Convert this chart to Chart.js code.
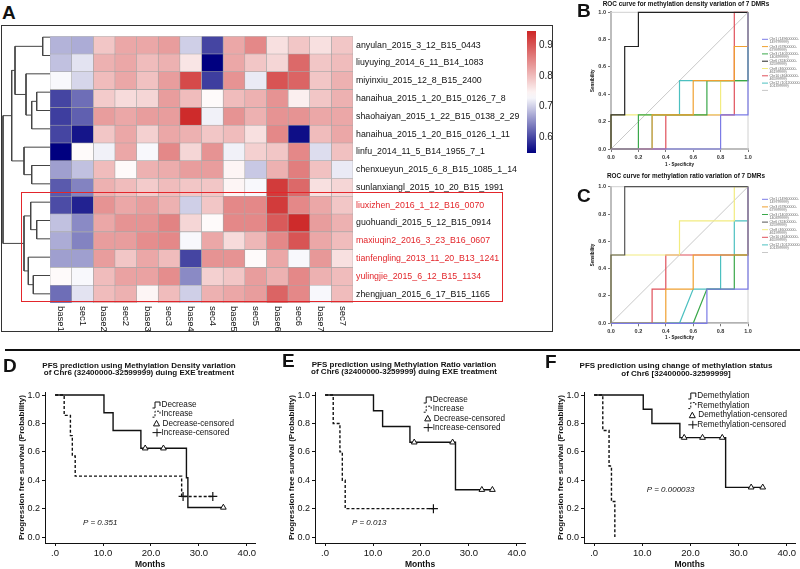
<!DOCTYPE html>
<html>
<head>
<meta charset="utf-8">
<title>DMR methylation and PFS</title>
<script src="https://cdn.jsdelivr.net/npm/chart.js@4.4.1/dist/chart.umd.min.js"></script>
<style>
  body { margin: 0; background: #fff; }
  #page { position: relative; width: 800px; height: 569px; overflow: hidden; font-family: "Liberation Sans", Arial, sans-serif; }
  canvas { position: absolute; }
  .tag { position: absolute; font-weight: bold; font-size: 19px; line-height: 1; color: #111; }
  #frameA { position: absolute; left: 1px; top: 25px; width: 550px; height: 305px; border: 1.5px solid #333; }
  #hiBox { position: absolute; left: 21px; top: 192px; width: 480px; height: 108px; border: 1.5px solid #e3262b; }
  #rule { position: absolute; left: 5px; top: 349px; width: 795px; height: 2px; background: #111; }
</style>
</head>
<body>
<div id="page">
  <div id="frameA"></div>
  <div class="tag" style="left:2px;top:3px">A</div>
  <canvas id="dendro" width="50" height="275" style="left:0;top:28px"></canvas>
  <canvas id="heat" width="503" height="305" style="left:50px;top:28px"></canvas>
  <canvas id="cbar" width="40" height="140" style="left:527px;top:22px"></canvas>
  <div id="hiBox"></div>

  <div class="tag" style="left:577px;top:1px">B</div>
  <canvas id="rocB" width="217" height="172" style="left:583px;top:0"></canvas>
  <div class="tag" style="left:577px;top:186px">C</div>
  <canvas id="rocC" width="217" height="174" style="left:583px;top:170px"></canvas>

  <div id="rule"></div>
  <canvas id="kmD" width="277" height="217" style="left:0;top:352px"></canvas>
  <canvas id="kmE" width="277" height="217" style="left:270px;top:352px"></canvas>
  <canvas id="kmF" width="261" height="217" style="left:539px;top:352px"></canvas>
  <div class="tag" style="left:3px;top:356px">D</div>
  <div class="tag" style="left:282px;top:351px">E</div>
  <div class="tag" style="left:545px;top:352px">F</div>
</div>
<script>
// ---------- heatmap data (panel A) ----------
const sampleNames = [
  'anyulan_2015_3_12_B15_0443',
  'liuyuying_2014_6_11_B14_1083',
  'miyinxiu_2015_12_8_B15_2400',
  'hanaihua_2015_1_20_B15_0126_7_8',
  'shaohaiyan_2015_1_22_B15_0138_2_29',
  'hanaihua_2015_1_20_B15_0126_1_11',
  'linfu_2014_11_5_B14_1955_7_1',
  'chenxueyun_2015_6_8_B15_1085_1_14',
  'sunlanxiangl_2015_10_20_B15_1991',
  'liuxizhen_2016_1_12_B16_0070',
  'guohuandi_2015_5_12_B15_0914',
  'maxiuqin2_2016_3_23_B16_0607',
  'tianfengling_2013_11_20_B13_1241',
  'yulingjie_2015_6_12_B15_1134',
  'zhengjuan_2015_6_17_B15_1165'
];
const redSamples = [
  'liuxizhen_2016_1_12_B16_0070',
  'maxiuqin2_2016_3_23_B16_0607',
  'tianfengling_2013_11_20_B13_1241',
  'yulingjie_2015_6_12_B15_1134'
];
const regionCols = ['base1','sec1','base2','sec2','base3','sec3','base4','sec4','base5','sec5','base6','sec6','base7','sec7'];
const methylation = [
  [0.68, 0.675, 0.79, 0.82, 0.82, 0.83, 0.70, 0.60, 0.82, 0.85, 0.765, 0.79, 0.765, 0.79],
  [0.69, 0.715, 0.81, 0.82, 0.80, 0.81, 0.76, 0.55, 0.82, 0.79, 0.775, 0.88, 0.79, 0.80],
  [0.73, 0.705, 0.80, 0.82, 0.795, 0.83, 0.91, 0.595, 0.84, 0.72, 0.90, 0.885, 0.79, 0.81],
  [0.60, 0.63, 0.785, 0.77, 0.775, 0.83, 0.80, 0.74, 0.80, 0.81, 0.84, 0.75, 0.79, 0.81],
  [0.595, 0.62, 0.83, 0.82, 0.83, 0.83, 0.94, 0.725, 0.84, 0.81, 0.84, 0.84, 0.82, 0.82],
  [0.60, 0.565, 0.79, 0.82, 0.78, 0.82, 0.81, 0.79, 0.80, 0.765, 0.85, 0.56, 0.80, 0.82],
  [0.55, 0.74, 0.725, 0.82, 0.73, 0.85, 0.775, 0.84, 0.725, 0.78, 0.79, 0.85, 0.71, 0.795],
  [0.665, 0.69, 0.80, 0.74, 0.81, 0.815, 0.83, 0.83, 0.745, 0.695, 0.81, 0.86, 0.795, 0.72],
  [0.615, 0.645, 0.81, 0.80, 0.785, 0.80, 0.79, 0.79, 0.745, 0.73, 0.925, 0.88, 0.765, 0.775],
  [0.605, 0.575, 0.84, 0.82, 0.83, 0.81, 0.70, 0.79, 0.85, 0.85, 0.925, 0.85, 0.82, 0.79],
  [0.69, 0.65, 0.82, 0.84, 0.84, 0.855, 0.775, 0.74, 0.85, 0.85, 0.895, 0.94, 0.83, 0.81],
  [0.675, 0.645, 0.83, 0.83, 0.845, 0.85, 0.73, 0.82, 0.77, 0.805, 0.85, 0.90, 0.82, 0.80],
  [0.665, 0.665, 0.83, 0.79, 0.82, 0.80, 0.60, 0.84, 0.84, 0.74, 0.82, 0.73, 0.835, 0.765],
  [0.74, 0.73, 0.80, 0.825, 0.825, 0.845, 0.65, 0.78, 0.79, 0.83, 0.81, 0.85, 0.81, 0.80],
  [0.63, 0.715, 0.80, 0.81, 0.745, 0.80, 0.70, 0.81, 0.82, 0.83, 0.885, 0.85, 0.73, 0.80]
];
// dendrogram merges: [left, right, height]; >=0 leaf row, <0 earlier merge (-1 = first)
const rowMerges = [
  [0, 1, 7.3], [3, 4, 13.3], [-2, 5, 18.3], [2, -3, 24], [-1, -4, 35],
  [7, 8, 18.3], [6, -6, 26], [-5, -7, 38.3],
  [10, 11, 13.3], [9, -9, 19.3], [13, 14, 16.7], [12, -11, 21.7], [-10, -12, 26],
  [-8, -13, 47]
];
const cbMin = 0.55, cbMid = 0.735, cbMax = 0.945;
const cbTicks = [0.6, 0.7, 0.8, 0.9];

// ---------- ROC data (panels B, C) ----------
const rocNames = [
  'Chr1 (149600000-149799999)', 'Chr3 (67800000-67999999)', 'Chr3 (140200000-140399999)',
  'Chr6 (32400000-32599999)', 'Chr8 (46000000-46199999)', 'Chr10 (46400000-46599999)',
  'Chr12 (101200000-101399999)'
];
const rocTicks = [0, 0.2, 0.4, 0.6, 0.8, 1.0];
const refLine = [[0, 0], [1, 1]];
const densChr1 = [[0,0],[0.8,0],[0.8,0.25],[1,0.25],[1,1]];
const densChr3a = [[0,0],[0.3,0],[0.3,0.25],[0.6,0.25],[0.6,0.5],[0.9,0.5],[0.9,0.75],[1,0.75],[1,1]];
const densChr3b = [[0,0],[0.2,0],[0.2,0.25],[0.7,0.25],[0.7,0.5],[1,0.5],[1,1]];
const densChr6 = [[0,0],[0,0.25],[0.1,0.25],[0.1,0.75],[0.2,0.75],[0.2,1],[1,1]];
const densChr8 = [[0,0],[0,0.25],[0.8,0.25],[0.8,0.5],[1,0.5],[1,1]];
const densChr10 = [[0,0],[0.4,0],[0.4,0.25],[0.9,0.25],[0.9,1],[1,1]];
const densChr12 = [[0,0],[0.3,0],[0.3,0.25],[0.5,0.25],[0.5,0.5],[1,0.5],[1,1]];
const ratioChr1 = [[0,0],[0.7,0],[0.7,0.25],[1,0.25],[1,1]];
const ratioChr3a = [[0,0],[0.4,0],[0.4,0.25],[0.6,0.25],[0.6,0.5],[1,0.5],[1,1]];
const ratioChr3b = [[0,0],[0.6,0],[0.7,0.25],[0.9,0.25],[0.9,0.5],[1,0.5],[1,1]];
const ratioChr6 = [[0,0],[0,0.5],[0.1,0.5],[0.1,1],[1,1]];
const ratioChr8 = [[0,0],[0,0.5],[0.5,0.5],[0.5,0.75],[0.9,0.75],[0.9,1],[1,1]];
const ratioChr10 = [[0,0],[0.3,0],[0.3,0.25],[0.4,0.25],[0.4,0.5],[1,0.5],[1,1]];
const ratioChr12 = [[0,0],[0.5,0],[0.6,0.25],[0.8,0.25],[0.8,0.5],[0.9,0.5],[0.9,0.75],[1,0.75],[1,1]];

// ---------- Kaplan-Meier data (panels D, E, F) ----------
const monthTicks = [0, 10, 20, 30, 40];
const survTicks = [0, 0.2, 0.4, 0.6, 0.8, 1.0];
const densDecTime = [0, 10.2, 12.1, 17.9, 27.4, 27.7, 35.1];
const densDecSurv = [1, 0.875, 0.75, 0.625, 0.417, 0.208, 0.208];
const densDecCensTime = [18.8, 22.6, 35.1];
const densDecCensSurv = [0.625, 0.625, 0.208];
const densIncTime = [0, 1.9, 3.2, 3.6, 4.2, 26.4, 32.9];
const densIncSurv = [1, 0.857, 0.714, 0.571, 0.429, 0.286, 0.286];
const densIncCensTime = [26.7, 32.9];
const densIncCensSurv = [0.286, 0.286];

const ratioDecTime = [0, 10.1, 12.0, 17.7, 27.2, 34.9];
const ratioDecSurv = [1, 0.889, 0.778, 0.667, 0.333, 0.333];
const ratioDecCensTime = [18.6, 26.6, 32.7, 34.9];
const ratioDecCensSurv = [0.667, 0.667, 0.333, 0.333];
const ratioIncTime = [0, 1.7, 3.1, 3.6, 4.2, 22.6];
const ratioIncSurv = [1, 0.8, 0.6, 0.4, 0.2, 0.2];
const ratioIncCensTime = [22.6];
const ratioIncCensSurv = [0.2];

const statDemTime = [0, 10.2, 12.0, 17.8, 27.3, 35.0];
const statDemSurv = [1, 0.9, 0.8, 0.7, 0.35, 0.35];
const statDemCensTime = [18.7, 22.5, 26.6, 32.6, 35.0];
const statDemCensSurv = [0.7, 0.7, 0.7, 0.35, 0.35];
const statRemTime = [0, 1.8, 3.1, 3.6, 4.3];
const statRemSurv = [1, 0.75, 0.5, 0.25, 0];
const statRemCensTime = [];
const statRemCensSurv = [];

// ---------- helpers ----------
Chart.defaults.font.family = '"Liberation Sans", Arial, sans-serif';
Chart.defaults.color = '#111';
const FONT = '"Liberation Sans", Arial, sans-serif';

const heatColor = v => {
  const lo = [0, 0, 128], wh = [255, 255, 255], hi = [205, 38, 38];
  let a, b, f;
  if (v < cbMid) { a = lo; b = wh; f = Math.max(0, (v - cbMin) / (cbMid - cbMin)); }
  else { a = wh; b = hi; f = Math.min(1, (v - cbMid) / (cbMax - cbMid)); }
  const c = a.map((x, i) => Math.round(x + (b[i] - x) * f));
  return `rgb(${c[0]},${c[1]},${c[2]})`;
};
const pairs = (xs, ys) => xs.map((x, i) => ({ x, y: ys[i] }));
const fixedTicks = arr => scale => { scale.ticks = arr.map(v => ({ value: v })); };

// title lines drawn at a chosen centre (the chart title box can't be shifted)
const drawTitle = (ctx, lines, x, y, size, step) => {
  ctx.save();
  ctx.font = `bold ${size}px ${FONT}`;
  ctx.fillStyle = '#111';
  ctx.textAlign = 'center';
  ctx.textBaseline = 'middle';
  lines.forEach((t, i) => ctx.fillText(t, x, y + i * step));
  ctx.restore();
};

const colLabels = {
  id: 'colLabels',
  afterDraw(chart) {
    const { ctx, chartArea, scales } = chart;
    ctx.save();
    ctx.font = `9.5px ${FONT}`;
    ctx.fillStyle = '#111';
    ctx.textBaseline = 'middle';
    regionCols.forEach((name, j) => {
      ctx.save();
      ctx.translate(scales.x.getPixelForValue(j + 0.5), chartArea.bottom + 3);
      ctx.rotate(Math.PI / 2);
      ctx.fillText(name, 0, 0);
      ctx.restore();
    });
    ctx.restore();
  }
};

// dendrogram
const dendroSets = [];
const nodeY = [], nodeH = [];
const pos = k => k >= 0 ? { y: k + 0.5, h: 0 } : { y: nodeY[-k - 1], h: nodeH[-k - 1] };
rowMerges.forEach(([a, b, h]) => {
  const pa = pos(a), pb = pos(b);
  dendroSets.push({
    data: [{ x: pa.h, y: pa.y }, { x: h, y: pa.y }, { x: h, y: pb.y }, { x: pb.h, y: pb.y }],
    borderColor: '#444', borderWidth: 1, pointRadius: 0, showLine: true, clip: false
  });
  nodeY.push((pa.y + pb.y) / 2);
  nodeH.push(h);
});
new Chart(document.getElementById('dendro'), {
  type: 'scatter',
  data: { datasets: dendroSets },
  options: {
    responsive: false, animation: false,
    layout: { padding: 0 },
    scales: {
      x: { display: false, min: 0, max: 50, reverse: true },
      y: { display: false, min: 0, max: sampleNames.length, reverse: true }
    },
    plugins: { legend: { display: false }, tooltip: { enabled: false } }
  }
});

// heatmap as stacked bars
new Chart(document.getElementById('heat'), {
  type: 'bar',
  data: {
    labels: sampleNames,
    datasets: regionCols.map((col, j) => ({
      label: col,
      data: sampleNames.map(() => 1),
      backgroundColor: methylation.map(row => heatColor(row[j])),
      borderColor: '#a6a6a6',
      borderWidth: 0.6,
      borderSkipped: false,
      barPercentage: 1,
      categoryPercentage: 1
    }))
  },
  options: {
    indexAxis: 'y', responsive: false, animation: false,
    layout: { padding: 0 },
    scales: {
      x: {
        stacked: true, min: 0, max: regionCols.length,
        ticks: { display: false }, grid: { display: false, drawTicks: false }, border: { display: false },
        afterFit: s => { s.height = 30; }
      },
      y: {
        stacked: true, position: 'right',
        grid: { display: false, drawTicks: false }, border: { display: false },
        ticks: {
          padding: 3, font: { size: 8.8 },
          color: c => redSamples.includes(sampleNames[c.index]) ? '#e3262b' : '#111'
        },
        afterFit: s => { s.width = 200; }
      }
    },
    plugins: { legend: { display: false }, tooltip: { enabled: false } }
  },
  plugins: [colLabels]
});

// colour bar
new Chart(document.getElementById('cbar'), {
  type: 'bar',
  data: {
    labels: [''],
    datasets: [{
      data: [[cbMin, cbMax]],
      backgroundColor: ctx => {
        const { chart } = ctx;
        const area = chart.chartArea;
        if (!area) return '#fff';
        const g = chart.ctx.createLinearGradient(0, area.bottom, 0, area.top);
        for (let i = 0; i <= 20; i++) {
          g.addColorStop(i / 20, heatColor(cbMin + (cbMax - cbMin) * i / 20));
        }
        return g;
      },
      borderWidth: 0, barPercentage: 1, categoryPercentage: 1
    }]
  },
  options: {
    responsive: false, animation: false,
    layout: { padding: { top: 7, bottom: 8 } },
    scales: {
      x: { display: false },
      y: {
        position: 'right', min: cbMin, max: cbMax,
        afterBuildTicks: fixedTicks(cbTicks),
        ticks: { padding: 3, font: { size: 10 }, color: '#222', callback: v => v.toFixed(1) },
        grid: { display: false, drawTicks: false }, border: { display: false },
        afterFit: s => { s.width = 31; }
      }
    },
    plugins: { legend: { display: false }, tooltip: { enabled: false } }
  }
});

// ---------- ROC charts ----------
const rocColors = ['#7b7be6', '#f0a030', '#3aa84a', '#222222', '#f2ec80', '#e0505a', '#4cc0c0'];

const rocExtras = {
  id: 'rocExtras',
  beforeDatasetsDraw(chart) {
    const { ctx, chartArea: a } = chart;
    ctx.save();
    ctx.strokeStyle = '#d0d0d0';
    ctx.lineWidth = 1;
    ctx.strokeRect(a.left, a.top, a.right - a.left, a.bottom - a.top);
    ctx.restore();
  },
  afterDraw(chart, args, opts) {
    const { ctx, chartArea: a } = chart;
    drawTitle(ctx, [opts.title], opts.titleX, opts.titleY, 6.4, 0);
    ctx.save();
    ctx.font = `3.6px ${FONT}`;
    ctx.textBaseline = 'middle';
    chart.data.datasets.forEach((ds, i) => {
      const y = a.top + opts.top + i * opts.step;
      ctx.strokeStyle = ds.borderColor;
      ctx.lineWidth = 1;
      ctx.beginPath();
      ctx.moveTo(a.right + 14, y);
      ctx.lineTo(a.right + 20, y);
      ctx.stroke();
      if (ds.label) {
        const cut = ds.label.indexOf('-') + 1;
        ctx.fillStyle = '#666';
        ctx.fillText(ds.label.slice(0, cut), a.right + 21.5, y);
        ctx.fillText(ds.label.slice(cut), a.right + 21.5, y + 3);
      }
    });
    ctx.restore();
  }
};

function rocChart(id, title, curves, blackColor, lay) {
  const colors = rocColors.map((c, i) => i === 3 ? blackColor : c);
  const datasets = curves.map((pts, i) => ({
    label: rocNames[i], data: pts, borderColor: colors[i], borderWidth: 1.2,
    pointRadius: 0, showLine: true, clip: false
  }));
  datasets.push({ label: '', data: refLine, borderColor: '#c8c8c8', borderWidth: 1, pointRadius: 0, showLine: true });
  const axisCommon = {
    min: 0, max: 1,
    afterBuildTicks: fixedTicks(rocTicks),
    ticks: { font: { size: 5.5, weight: 'bold' }, color: '#333', padding: 2, callback: v => v.toFixed(1), maxRotation: 0 },
    grid: { display: true, drawOnChartArea: false, tickLength: 3, color: '#555', lineWidth: 0.8 },
    border: { color: '#aaa', width: 2 }
  };
  return new Chart(document.getElementById(id), {
    type: 'scatter',
    data: { datasets },
    options: {
      responsive: false, animation: false,
      layout: { padding: { right: 52, top: lay.top } },
      scales: {
        x: Object.assign({}, axisCommon, {
          title: { display: true, text: '1 - Specificity', font: { size: 4.5, weight: 'bold' }, padding: { top: 1, bottom: lay.xTitleBottom } },
          afterFit: s => { s.height = lay.xHeight; }
        }),
        y: Object.assign({}, axisCommon, {
          title: { display: true, text: 'Sensibility', font: { size: 4.5, weight: 'bold' }, padding: { top: 7.3, bottom: 0 } },
          afterFit: s => { s.width = 28; }
        })
      },
      plugins: {
        legend: { display: false }, tooltip: { enabled: false },
        rocExtras: { title, titleX: 103, titleY: lay.titleY, top: lay.legTop, step: lay.legStep }
      }
    },
    plugins: [rocExtras]
  });
}

rocChart('rocB', 'ROC curve for methylation density variation of 7 DMRs',
  [densChr1, densChr3a, densChr3b, densChr6, densChr8, densChr10, densChr12], '#222222',
  { top: 12.3, xHeight: 23, xTitleBottom: 5, titleY: 4.6, legTop: 27, legStep: 7.3 });
rocChart('rocC', 'ROC curve for methylation ratio variation of 7 DMRs',
  [ratioChr1, ratioChr3a, ratioChr3b, ratioChr6, ratioChr8, ratioChr10, ratioChr12], '#555555',
  { top: 16.7, xHeight: 20.7, xTitleBottom: 3.6, titleY: 6.7, legTop: 12.6, legStep: 7.6 });

// ---------- Kaplan-Meier charts ----------
const kmExtras = {
  id: 'kmExtras',
  afterDraw(chart, args, opts) {
    const { ctx, chartArea: a, scales } = chart;
    drawTitle(ctx, opts.title, opts.titleX, opts.titleY, 8, 7.5);
    ctx.save();
    ctx.fillStyle = '#111';
    ctx.strokeStyle = '#111';
    ctx.lineWidth = 1;
    ctx.textBaseline = 'middle';
    ctx.font = `8.2px ${FONT}`;
    const tx = a.left + opts.legX;
    chart.data.datasets.forEach((ds, i) => {
      const y = a.top + opts.legY + i * opts.legStep;
      ctx.beginPath();
      ctx.setLineDash(i === 1 ? [2, 1.5] : []);
      if (i < 2) {
        ctx.moveTo(tx - 9, y + 3); ctx.lineTo(tx - 6.5, y + 3); ctx.lineTo(tx - 6.5, y - 3);
        ctx.lineTo(tx - 1.5, y - 3); ctx.lineTo(tx - 1.5, y + 1);
        ctx.stroke();
      } else if (i === 2) {
        ctx.moveTo(tx - 5, y - 3); ctx.lineTo(tx - 2, y + 2.5); ctx.lineTo(tx - 8, y + 2.5); ctx.closePath();
        ctx.stroke();
      } else {
        ctx.moveTo(tx - 9, y); ctx.lineTo(tx, y);
        ctx.moveTo(tx - 4.5, y - 4); ctx.lineTo(tx - 4.5, y + 4);
        ctx.stroke();
      }
      ctx.setLineDash([]);
      ctx.fillText(ds.label, i === 2 ? tx + 1 : tx, y);
    });
    ctx.font = `italic 8px ${FONT}`;
    ctx.fillText(opts.pText, scales.x.getPixelForValue(opts.pAt[0]), scales.y.getPixelForValue(opts.pAt[1]));
    ctx.restore();
  }
};

function kmChart(id, cfg) {
  return new Chart(document.getElementById(id), {
    type: 'line',
    data: {
      datasets: [
        { label: cfg.names[0], data: pairs(cfg.a[0], cfg.a[1]), stepped: 'before', borderColor: '#111', borderWidth: 1.4, pointRadius: 0, order: 2 },
        { label: cfg.names[1], data: pairs(cfg.b[0], cfg.b[1]), stepped: 'before', borderColor: '#111', borderWidth: 1.4, borderDash: [3, 2], pointRadius: 0, order: 2 },
        { label: cfg.names[2], data: pairs(cfg.ac[0], cfg.ac[1]), showLine: false, pointStyle: 'triangle', pointRadius: 3.3, borderColor: '#111', borderWidth: 1, backgroundColor: '#fff', order: 1 },
        { label: cfg.names[3], data: pairs(cfg.bc[0], cfg.bc[1]), showLine: false, pointStyle: 'cross', pointRadius: 4.5, borderColor: '#111', borderWidth: 1.2, order: 1 }
      ]
    },
    options: {
      responsive: false, animation: false,
      layout: { padding: { right: cfg.padRight, top: 40.2 } },
      scales: {
        x: {
          type: 'linear', min: -2.1, max: 41.7,
          afterBuildTicks: fixedTicks(monthTicks),
          ticks: { font: { size: 9.5 }, color: '#111', padding: 2, maxRotation: 0, callback: v => v === 0 ? '.0' : v.toFixed(1) },
          grid: { display: true, drawOnChartArea: false, tickLength: 3, color: '#111' },
          border: { color: '#111', width: 1 },
          title: { display: true, text: 'Months', font: { size: 8.5, weight: 'bold', lineHeight: 1 }, padding: { top: 2, bottom: 0 } },
          afterFit: s => { s.height = 26; }
        },
        y: {
          min: -0.042, max: 1.02,
          afterBuildTicks: fixedTicks(survTicks),
          ticks: { font: { size: 9 }, color: '#111', padding: 2, callback: v => v.toFixed(1) },
          grid: { display: true, drawOnChartArea: false, tickLength: 3, color: '#111' },
          border: { color: '#111', width: 1 },
          title: { display: true, text: 'Progression free survival (Probability)', font: { size: 8, weight: 'bold' }, padding: { top: 16.6, bottom: 0 } },
          afterFit: s => { s.width = 45; }
        }
      },
      plugins: {
        legend: { display: false }, tooltip: { enabled: false },
        kmExtras: Object.assign({ title: cfg.title }, cfg.extras)
      }
    },
    plugins: [kmExtras]
  });
}

kmChart('kmD', {
  title: ['PFS prediction using Methylation Density variation', 'of Chr6 (32400000-32599999) duing EXE treatment'],
  names: ['Decrease', 'Increase', 'Decrease-censored', 'Increase-censored'],
  a: [densDecTime, densDecSurv], b: [densIncTime, densIncSurv],
  ac: [densDecCensTime, densDecCensSurv], bc: [densIncCensTime, densIncCensSurv],
  padRight: 22,
  extras: { titleX: 139, titleY: 13.5, legX: 116.5, legY: 12.8, legStep: 9.2, pText: 'P = 0.351', pAt: [5.8, 0.1] }
});
kmChart('kmE', {
  title: ['PFS prediction using Methylation Ratio variation', 'of Chr6 (32400000-3259999) duing EXE treatment'],
  names: ['Decrease', 'Increase', 'Decrease-censored', 'Increase-censored'],
  a: [ratioDecTime, ratioDecSurv], b: [ratioIncTime, ratioIncSurv],
  ac: [ratioDecCensTime, ratioDecCensSurv], bc: [ratioIncCensTime, ratioIncCensSurv],
  padRight: 22,
  extras: { titleX: 134, titleY: 12.5, legX: 117.7, legY: 7.8, legStep: 9.2, pText: 'P = 0.013', pAt: [5.6, 0.1] }
});
kmChart('kmF', {
  title: ['PFS prediction using change of methylation status', 'of Chr6 [32400000-32599999]'],
  names: ['Demethylation', 'Remethylation', 'Demethylation-censored', 'Remethylation-censored'],
  a: [statDemTime, statDemSurv], b: [statRemTime, statRemSurv],
  ac: [statDemCensTime, statDemCensSurv], bc: [statRemCensTime, statRemCensSurv],
  padRight: 5,
  extras: { titleX: 137, titleY: 14, legX: 113.3, legY: 3.8, legStep: 9.6, pText: 'P = 0.000033', pAt: [10.9, 0.336] }
});
</script>
</body>
</html>
